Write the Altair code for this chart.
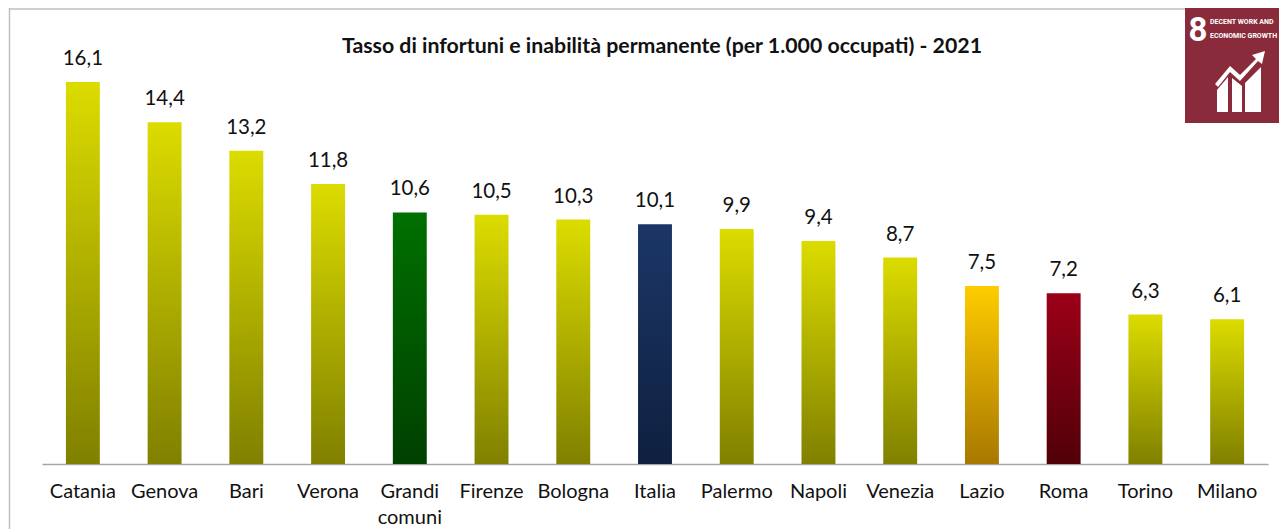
import altair as alt
import pandas as pd

categories = ["Catania", "Genova", "Bari", "Verona", "Grandi comuni", "Firenze", "Bologna", "Italia",
              "Palermo", "Napoli", "Venezia", "Lazio", "Roma", "Torino", "Milano"]
values = [16.1, 14.4, 13.2, 11.8, 10.6, 10.5, 10.3, 10.1, 9.9, 9.4, 8.7, 7.5, 7.2, 6.3, 6.1]
labels = ["16,1", "14,4", "13,2", "11,8", "10,6", "10,5", "10,3", "10,1", "9,9", "9,4", "8,7", "7,5", "7,2", "6,3", "6,1"]
groups = ["city"] * 4 + ["grandi"] + ["city"] * 2 + ["italia"] + ["city"] * 3 + ["lazio", "roma"] + ["city"] * 2
title_text = "Tasso di infortuni e inabilità permanente (per 1.000 occupati) - 2021"

gradients = {
    "city": ("#DCDC00", "#808000"),
    "grandi": ("#007000", "#004000"),
    "italia": ("#1B3666", "#0F2040"),
    "lazio": ("#FFCC00", "#A87800"),
    "roma": ("#9C0018", "#500008"),
}

df = pd.DataFrame({"cat": categories, "val": values, "lab": labels, "grp": groups})
FONT = "Lato"
W, H = 1226, 456
YMAX = H / 23.73

x = alt.X("cat:N", sort=categories, title=None,
          scale=alt.Scale(paddingInner=0.585, paddingOuter=0.2925),
          axis=alt.Axis(labelAngle=0, labelFont=FONT, labelFontSize=20, labelColor="#111111",
                        labelPadding=17, ticks=False, domainColor="#A6A6A6", domainWidth=1.5,
                        labelLineHeight=26,
                        labelExpr="datum.label == 'Grandi comuni' ? ['Grandi', 'comuni'] : datum.label"))
y = alt.Y("val:Q", title=None, scale=alt.Scale(domain=[0, YMAX], nice=False), axis=None)

layers = []
for g, (top, bottom) in gradients.items():
    layers.append(
        alt.Chart(df[df.grp == g]).mark_bar(
            color=alt.Gradient(gradient="linear", x1=0, x2=0, y1=0, y2=1,
                               stops=[alt.GradientStop(color=top, offset=0),
                                      alt.GradientStop(color=bottom, offset=1)])
        ).encode(x=x, y=y)
    )

text = alt.Chart(df).mark_text(font=FONT, fontSize=20.5, color="#111111", dy=-23).encode(x=x, y=y, text="lab:N")

one = pd.DataFrame({"a": [0]})

# helpers take page pixel coordinates
def PXX(v):
    return v - 42

def PXY(v):
    return v - 8

def rect(x1, x2, y1, y2, color):
    return alt.Chart(one).mark_rect(color=color).encode(
        x=alt.value(PXX(x1)), x2=alt.value(PXX(x2)), y=alt.value(PXY(y1)), y2=alt.value(PXY(y2)))

def label(s, px, py, size, color="#111111", weight="normal", align="left", font=FONT):
    return alt.Chart(pd.DataFrame({"t": [s]})).mark_text(
        font=font, fontSize=size, color=color, fontWeight=weight, align=align, baseline="middle"
    ).encode(x=alt.value(PXX(px)), y=alt.value(PXY(py)), text="t:N")

def rule(x1, x2, y1, y2, color, w):
    return alt.Chart(one).mark_rule(color=color, strokeWidth=w).encode(
        x=alt.value(PXX(x1)), x2=alt.value(PXX(x2)), y=alt.value(PXY(y1)), y2=alt.value(PXY(y2)))

def poly(points, color="#FFFFFF"):
    cx, cy, s = 1240, 85, 30
    path = "M " + " L ".join(f"{(a - cx) / s:.3f} {(b - cy) / s:.3f}" for a, b in points) + " Z"
    return alt.Chart(one).mark_point(shape=path, size=(2 * s) ** 2, filled=True, opacity=1,
                                     color=color, strokeWidth=0).encode(
        x=alt.value(PXX(cx)), y=alt.value(PXY(cy)))

frame = [
    rule(9.5, 9.5, 8, 529, "#BFBFBF", 1.5),
    rule(9.5, 1185, 9, 9, "#BFBFBF", 1.5),
]

icon = [
    rect(1185, 1287, 8, 123, "#8A2B3B"),
    label("8", 1198, 31, 33, "#FFFFFF", "bold", "center", "Roboto"),
    label("DECENT WORK AND", 1210, 22, 7, "#FFFFFF", "bold", "left", "Roboto"),
    label("ECONOMIC GROWTH", 1210, 36, 7, "#FFFFFF", "bold", "left", "Roboto"),
    poly([(1217, 112), (1217, 90), (1228, 77), (1228, 112)]),
    poly([(1232, 112), (1232, 78), (1242, 86), (1242, 112)]),
    poly([(1245, 112), (1245, 83), (1261, 67), (1261, 112)]),
    poly([(1215, 84), (1230, 66), (1240, 75), (1256, 59), (1252, 55), (1265, 51),
          (1262, 64), (1258, 61), (1240, 81), (1230, 72), (1218, 87)]),
]

chart_title = label(title_text, 662, 47, 21.3, "#111111", "bold", "center")

chart = alt.layer(*frame, *layers, text, chart_title, *icon).properties(
    width=W, height=H,
    padding={"left": 34, "top": 0, "right": 11, "bottom": 65},
    autosize=alt.AutoSizeParams(type="none", contains="content"),
).configure_view(stroke=None)

chart.save("out.html", embed_options={"renderer": "svg", "actions": False})
